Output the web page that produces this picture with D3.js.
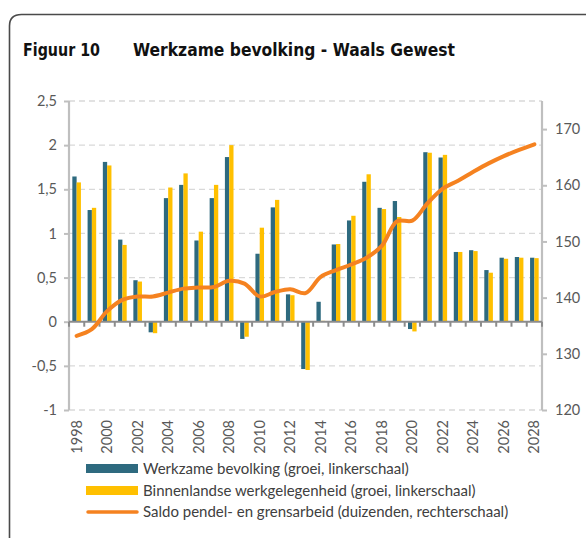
<!DOCTYPE html>
<html>
<head>
<meta charset="utf-8">
<script src="https://cdn.jsdelivr.net/npm/d3@7"></script>
<style>
  body { margin: 0; background: #fff; }
  svg { display: block; }
</style>
</head>
<body>
<div id="chart"></div>
<script>
// data
var years = d3.range(1998, 2029).map(String);
var werkzame = [1.645, 1.265, 1.81, 0.93, 0.47, -0.12, 1.40, 1.55, 0.92, 1.40, 1.865,
  -0.195, 0.77, 1.295, 0.31, -0.536, 0.226, 0.875, 1.147, 1.585, 1.29,
  1.367, -0.083, 1.92, 1.86, 0.79, 0.81, 0.585, 0.725, 0.733, 0.725];
var binnenlandse = [1.578, 1.29, 1.77, 0.87, 0.455, -0.13, 1.52, 1.68, 1.02, 1.55, 2.0,
  -0.17, 1.065, 1.38, 0.30, -0.547, 0.01, 0.88, 1.20, 1.67, 1.276,
  1.186, -0.11, 1.914, 1.89, 0.79, 0.80, 0.555, 0.713, 0.725, 0.72];
var saldo = [133.2, 134.4, 137.6, 139.6, 140.2, 140.2, 140.9, 141.6, 141.8, 141.9, 143.0,
  142.5, 140.2, 141.0, 141.5, 140.8, 143.7, 144.9, 145.9, 147.1, 149.2,
  153.6, 153.7, 156.8, 159.4, 160.8, 162.4, 163.9, 165.2, 166.3, 167.3];
var leftTicks = [-1, -0.5, 0, 0.5, 1, 1.5, 2, 2.5];
var rightTicks = [120, 130, 140, 150, 160, 170];
var legendLabels = [
  "Werkzame bevolking (groei, linkerschaal)",
  "Binnenlandse werkgelegenheid (groei, linkerschaal)",
  "Saldo pendel- en grensarbeid (duizenden, rechterschaal)"
];

var blue = "#2e6a7f", yellow = "#ffc000", orange = "#f58220";
var W = 586, H = 538;
var pL = 69, pR = 542, pT = 101, pB = 410;

var svg = d3.select("#chart").append("svg")
    .attr("width", W)
    .attr("height", H);

// frame with rounded corner
svg.append("path")
    .attr("d", "M9.5," + H + " L9.5,26 Q9.5,14.5 21.5,14.5 L" + (W + 5) + ",14.5")
    .attr("fill", "none")
    .attr("stroke", "#4a4a4a")
    .attr("stroke-width", 1.6);

// title
var title = svg.append("g")
    .style("font-family", "'DejaVu Sans', sans-serif")
    .style("font-weight", "bold")
    .style("font-size", "18.5px")
    .attr("fill", "#111");
title.append("text").attr("x", 23).attr("y", 56)
    .attr("textLength", 77).attr("lengthAdjust", "spacingAndGlyphs")
    .text("Figuur 10");
title.append("text").attr("x", 133).attr("y", 56)
    .attr("textLength", 322).attr("lengthAdjust", "spacingAndGlyphs")
    .text("Werkzame bevolking - Waals Gewest");

var x = d3.scaleBand().domain(years).range([pL, pR]);
var sub = d3.scaleBand().domain(["a", "b"]).range([0, 8.6]);
var y = d3.scaleLinear().domain([-1, 2.5]).range([pB, pT]);
var yR = d3.scaleLinear().domain([120, 175]).range([pB, pT]);

var fmt = function(d) { return String(d).replace(".", ","); };

// gridlines
svg.append("g").selectAll("line")
    .data(leftTicks.filter(function(d) { return d !== 0; }))
    .join("line")
    .attr("x1", pL).attr("x2", pR)
    .attr("y1", function(d) { return y(d); })
    .attr("y2", function(d) { return y(d); })
    .attr("stroke", "#d9d9d9")
    .attr("stroke-width", 1.3)
    .attr("stroke-dasharray", "6,4");

// bars
var off = x.bandwidth() / 2 - 4.3;
var bars = svg.append("g");
bars.selectAll(".b1").data(years).join("rect")
    .attr("x", function(d) { return x(d) + off + sub("a"); })
    .attr("width", sub.bandwidth())
    .attr("y", function(d, i) { return y(Math.max(0, werkzame[i])); })
    .attr("height", function(d, i) { return Math.abs(y(werkzame[i]) - y(0)); })
    .attr("fill", blue);
bars.selectAll(".b2").data(years).join("rect")
    .attr("x", function(d) { return x(d) + off + sub("b"); })
    .attr("width", sub.bandwidth())
    .attr("y", function(d, i) { return y(Math.max(0, binnenlandse[i])); })
    .attr("height", function(d, i) { return Math.abs(y(binnenlandse[i]) - y(0)); })
    .attr("fill", yellow);

// left axis
var gL = svg.append("g")
    .attr("transform", "translate(" + pL + ",0)")
    .call(d3.axisLeft(y).tickValues(leftTicks).tickFormat(fmt).tickSize(5).tickPadding(7));
// right axis
var gR = svg.append("g")
    .attr("transform", "translate(" + pR + ",0)")
    .call(d3.axisRight(yR).tickValues(rightTicks).tickSize(5).tickPadding(8));
[gL, gR].forEach(function(g) {
  g.select(".domain").attr("stroke", "#bfbfbf").attr("stroke-width", 2.2)
      .attr("d", "M0," + pB + "V" + pT);
  g.selectAll(".tick line").attr("stroke", "#bfbfbf").attr("stroke-width", 2);
  g.selectAll(".tick text").attr("fill", "#595959")
      .style("font-family", "Lato, sans-serif").style("font-size", "14.5px");
});

// category axis at zero
var gx = svg.append("g");
gx.selectAll("line").data(years.concat(["end"])).join("line")
    .attr("x1", function(d) { return d === "end" ? pR : x(d); })
    .attr("x2", function(d) { return d === "end" ? pR : x(d); })
    .attr("y1", y(0)).attr("y2", y(0) + 5)
    .attr("stroke", "#8c8c8c").attr("stroke-width", 2);
gx.append("line")
    .attr("x1", pL).attr("x2", pR)
    .attr("y1", y(0)).attr("y2", y(0))
    .attr("stroke", "#8c8c8c").attr("stroke-width", 2);

svg.append("g").selectAll("text")
    .data(years.filter(function(d) { return +d % 2 === 0; }))
    .join("text")
    .attr("transform", function(d) { return "translate(" + (x(d) + x.bandwidth() / 2 + 5) + "," + 420 + ") rotate(-90)"; })
    .attr("text-anchor", "end")
    .attr("fill", "#595959")
    .style("font-family", "Lato, sans-serif")
    .style("font-size", "14.5px")
    .text(function(d) { return d; });

// line, right scale
var line = d3.line()
    .x(function(d, i) { return x(years[i]) + x.bandwidth() / 2; })
    .y(function(d) { return yR(d); })
    .curve(d3.curveCatmullRom.alpha(0.5));
svg.append("path")
    .datum(saldo)
    .attr("d", line)
    .attr("fill", "none")
    .attr("stroke", orange)
    .attr("stroke-width", 4)
    .attr("stroke-linecap", "round");

// legend
var lg = svg.append("g");
var ly = [468.5, 490.5, 512];
lg.append("rect").attr("x", 86).attr("y", ly[0] - 4.5).attr("width", 52).attr("height", 9).attr("fill", blue);
lg.append("rect").attr("x", 86).attr("y", ly[1] - 4.5).attr("width", 52).attr("height", 9).attr("fill", yellow);
lg.append("line").attr("x1", 88).attr("x2", 137).attr("y1", ly[2]).attr("y2", ly[2])
    .attr("stroke", orange).attr("stroke-width", 3.5).attr("stroke-linecap", "round");
lg.selectAll("text").data(legendLabels).join("text")
    .attr("x", 143)
    .attr("y", function(d, i) { return ly[i] + 5; })
    .attr("fill", "#404040")
    .style("font-family", "Lato, sans-serif")
    .style("font-size", "15px")
    .text(function(d) { return d; });
</script>
</body>
</html>
